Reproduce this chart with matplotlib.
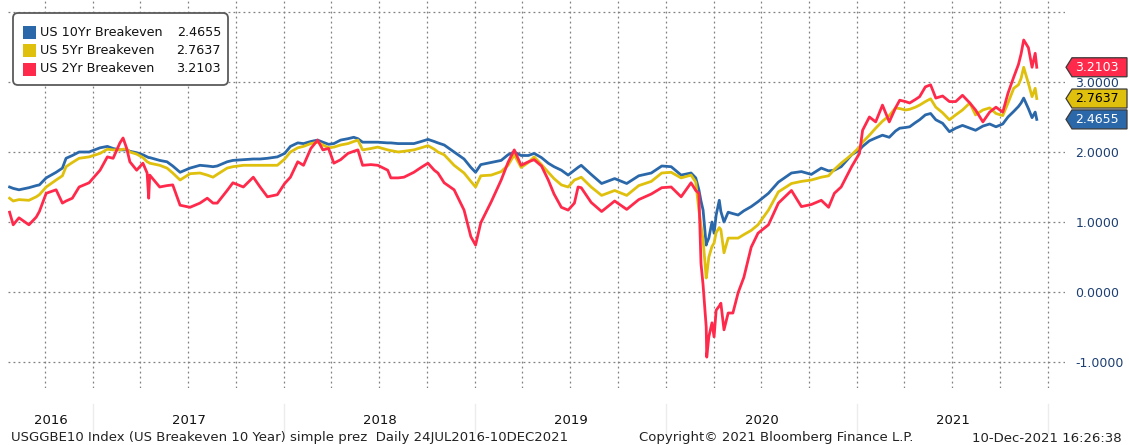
import matplotlib
matplotlib.use("Agg")
import matplotlib.pyplot as plt
import matplotlib.dates as mdates
from matplotlib.patches import FancyBboxPatch, Rectangle, Polygon
from matplotlib.transforms import IdentityTransform, blended_transform_factory
import pandas as pd

ANCHO, ALTO = 1129, 445

# fechas de los puntos (una fila por anio)
fechas = [
    "2016-07-25", "2016-08-01", "2016-08-12", "2016-08-31", "2016-09-14", "2016-09-20", "2016-10-03",
    "2016-10-22", "2016-11-03", "2016-11-10", "2016-11-22", "2016-12-05", "2016-12-24",
    "2017-01-14", "2017-01-28", "2017-02-08", "2017-02-21", "2017-02-27", "2017-03-06", "2017-03-12",
    "2017-03-25", "2017-04-06", "2017-04-14", "2017-04-17", "2017-04-19", "2017-05-08", "2017-05-22",
    "2017-06-02", "2017-06-16", "2017-07-05", "2017-07-24", "2017-08-07", "2017-08-18", "2017-08-26",
    "2017-09-14", "2017-09-25", "2017-10-15", "2017-11-03", "2017-11-16", "2017-11-30", "2017-12-19",
    "2018-01-02", "2018-01-13", "2018-01-27", "2018-02-07", "2018-02-21", "2018-03-06", "2018-03-16",
    "2018-03-27", "2018-04-06", "2018-04-19", "2018-05-03", "2018-05-14", "2018-05-22", "2018-05-31",
    "2018-06-16", "2018-06-29", "2018-07-18", "2018-07-24", "2018-08-07", "2018-08-18", "2018-09-06",
    "2018-09-20", "2018-10-03", "2018-10-15", "2018-10-22", "2018-11-03", "2018-11-22", "2018-12-11",
    "2018-12-24",
    "2019-01-02", "2019-01-12", "2019-02-01", "2019-02-20", "2019-03-05", "2019-03-17", "2019-03-30",
    "2019-04-13", "2019-04-24", "2019-05-08", "2019-05-21", "2019-06-01", "2019-06-15", "2019-06-28",
    "2019-07-10", "2019-07-17", "2019-07-23", "2019-08-11", "2019-08-31", "2019-09-25", "2019-10-18",
    "2019-11-10", "2019-12-04", "2019-12-24",
    "2020-01-11", "2020-01-30", "2020-02-18", "2020-02-27", "2020-03-04", "2020-03-08", "2020-03-12",
    "2020-03-18", "2020-03-19", "2020-03-23", "2020-03-29", "2020-04-02", "2020-04-06", "2020-04-12",
    "2020-04-15", "2020-04-21", "2020-04-29", "2020-05-08", "2020-05-18", "2020-05-29", "2020-06-12",
    "2020-06-25", "2020-07-15", "2020-08-03", "2020-08-28", "2020-09-16", "2020-10-05", "2020-10-24",
    "2020-11-07", "2020-11-18", "2020-12-01", "2020-12-21",
    "2021-01-05", "2021-01-11", "2021-01-24", "2021-02-05", "2021-02-18", "2021-03-03", "2021-03-15",
    "2021-03-23", "2021-04-03", "2021-04-11", "2021-04-22", "2021-04-30", "2021-05-11", "2021-05-21",
    "2021-05-31", "2021-06-13", "2021-06-26", "2021-07-08", "2021-07-21", "2021-08-04", "2021-08-15",
    "2021-08-29", "2021-09-11", "2021-09-23", "2021-10-06", "2021-10-16", "2021-10-27", "2021-11-05",
    "2021-11-10", "2021-11-15", "2021-11-24", "2021-12-01", "2021-12-07", "2021-12-10",
]

be10 = [
    1.50, 1.48, 1.46, 1.49, 1.52, 1.53, 1.63, 1.71, 1.77, 1.91, 1.95, 2.00, 2.00,
    2.06, 2.08, 2.05, 2.03, 2.03, 2.03, 2.01, 1.99, 1.96, 1.93, 1.92, 1.92, 1.88, 1.86, 1.80, 1.71,
    1.77, 1.81, 1.80, 1.79, 1.80, 1.86, 1.88, 1.89, 1.90, 1.90, 1.91, 1.93,
    1.98, 2.08, 2.13, 2.12, 2.15, 2.17, 2.14, 2.11, 2.12, 2.17, 2.19, 2.21, 2.19, 2.14, 2.14, 2.14,
    2.13, 2.13, 2.12, 2.12, 2.12, 2.15, 2.18, 2.15, 2.13, 2.10, 2.00, 1.90, 1.78,
    1.71, 1.82, 1.85, 1.88, 1.96, 2.00, 1.95, 1.95, 1.98, 1.92, 1.84, 1.79, 1.74, 1.67, 1.74, 1.78,
    1.81, 1.68, 1.55, 1.62, 1.55, 1.66, 1.70, 1.80,
    1.79, 1.67, 1.70, 1.63, 1.46, 1.30, 1.17, 0.67, 0.70, 0.77, 1.00, 0.84, 1.10, 1.31, 1.15, 1.00,
    1.14, 1.12, 1.10, 1.16, 1.22, 1.29, 1.41, 1.57, 1.70, 1.72, 1.68, 1.77, 1.73, 1.74, 1.79, 1.96,
    2.03, 2.08, 2.16, 2.20, 2.24, 2.21, 2.30, 2.34, 2.35, 2.36, 2.42, 2.46, 2.53, 2.55, 2.46, 2.41,
    2.29, 2.34, 2.38, 2.34, 2.31, 2.37, 2.40, 2.36, 2.40, 2.50, 2.58, 2.65, 2.70, 2.77, 2.62, 2.49,
    2.57, 2.4655,
]

be5 = [
    1.34, 1.30, 1.32, 1.31, 1.36, 1.39, 1.50, 1.60, 1.66, 1.79, 1.85, 1.91, 1.93,
    1.98, 2.04, 2.03, 2.03, 2.04, 2.04, 2.00, 1.97, 1.92, 1.86, 1.85, 1.84, 1.81, 1.77, 1.70, 1.60,
    1.69, 1.70, 1.67, 1.64, 1.68, 1.77, 1.79, 1.81, 1.81, 1.81, 1.81, 1.81,
    1.90, 2.00, 2.06, 2.08, 2.12, 2.14, 2.10, 2.06, 2.07, 2.10, 2.12, 2.15, 2.17, 2.03, 2.05, 2.07,
    2.03, 2.02, 2.00, 2.01, 2.03, 2.06, 2.09, 2.04, 2.00, 1.96, 1.81, 1.70, 1.58,
    1.50, 1.66, 1.67, 1.72, 1.81, 1.96, 1.78, 1.85, 1.93, 1.82, 1.71, 1.62, 1.53, 1.50, 1.60, 1.62,
    1.64, 1.50, 1.38, 1.45, 1.38, 1.52, 1.58, 1.70,
    1.71, 1.63, 1.67, 1.57, 1.17, 0.95, 0.74, 0.20, 0.25, 0.50, 0.65, 0.70, 0.85, 0.92, 0.89, 0.56,
    0.77, 0.77, 0.77, 0.82, 0.88, 0.96, 1.17, 1.43, 1.55, 1.58, 1.60, 1.64, 1.66, 1.75, 1.84, 1.96,
    2.07, 2.14, 2.24, 2.34, 2.44, 2.52, 2.63, 2.62, 2.60, 2.61, 2.64, 2.67, 2.72, 2.76, 2.64, 2.56,
    2.46, 2.53, 2.60, 2.70, 2.53, 2.60, 2.63, 2.55, 2.52, 2.70, 2.91, 2.96, 3.05, 3.21, 2.98, 2.79,
    2.91, 2.7637,
]

be2 = [
    1.14, 0.96, 1.06, 0.96, 1.07, 1.15, 1.41, 1.46, 1.27, 1.30, 1.34, 1.50, 1.56,
    1.74, 1.93, 1.91, 2.13, 2.20, 2.05, 1.86, 1.74, 1.84, 1.70, 1.34, 1.67, 1.50, 1.52, 1.53, 1.24,
    1.21, 1.27, 1.34, 1.27, 1.27, 1.45, 1.56, 1.50, 1.64, 1.50, 1.36, 1.39,
    1.55, 1.64, 1.86, 1.81, 2.05, 2.17, 2.03, 2.05, 1.84, 1.89, 1.98, 2.01, 2.03, 1.81, 1.82, 1.81,
    1.74, 1.63, 1.63, 1.64, 1.71, 1.78, 1.84, 1.74, 1.70, 1.56, 1.46, 1.17, 0.79,
    0.67, 0.99, 1.29, 1.60, 1.85, 2.03, 1.81, 1.86, 1.89, 1.80, 1.60, 1.40, 1.21, 1.17, 1.27, 1.50,
    1.49, 1.28, 1.15, 1.30, 1.18, 1.32, 1.40, 1.49,
    1.50, 1.36, 1.56, 1.45, 1.41, 0.41, 0.10, -0.50, -0.93, -0.64, -0.44, -0.64, -0.26, -0.20, -0.16, -0.54,
    -0.30, -0.30, -0.01, 0.21, 0.64, 0.84, 0.96, 1.27, 1.45, 1.22, 1.25, 1.31, 1.21, 1.41, 1.50, 1.79,
    1.98, 2.31, 2.50, 2.43, 2.67, 2.43, 2.63, 2.74, 2.72, 2.70, 2.75, 2.79, 2.93, 2.96, 2.77, 2.80,
    2.72, 2.72, 2.81, 2.70, 2.60, 2.43, 2.57, 2.64, 2.57, 2.84, 3.07, 3.25, 3.40, 3.60, 3.49, 3.21,
    3.41, 3.2103,
]

nombres = ["US 10Yr Breakeven", "US 5Yr Breakeven", "US 2Yr Breakeven"]
colores = ["#2b68aa", "#dfc00c", "#ff2a4b"]
color_texto_etiqueta = ["white", "black", "white"]
anios = [2016, 2017, 2018, 2019, 2020, 2021]
niveles = [-1, 0, 1, 2, 3, 4]

pie_izq = "USGGBE10 Index (US Breakeven 10 Year) simple prez  Daily 24JUL2016-10DEC2021"
pie_centro = "Copyright\u00a9 2021 Bloomberg Finance L.P."
pie_der = "10-Dec-2021 16:26:38"

plt.rcParams["font.family"] = ["DejaVu Sans"]

fig = plt.figure(figsize=(ANCHO / 100, ALTO / 100), dpi=100)
ax = fig.add_axes([8 / ANCHO, 57 / ALTO, 1057 / ANCHO, 388 / ALTO])

x = pd.to_datetime(fechas)
series = [be10, be5, be2]
for serie, color in zip(series, colores):
    ax.plot(x, serie, color=color, lw=2.0, solid_joinstyle="round")

ax.set_xlim(pd.Timestamp("2016-07-22"), pd.Timestamp("2022-02-02"))
ax.set_ylim(-1.371, 4.171)

# grilla punteada: trimestres en x, enteros en y
ax.xaxis.set_major_locator(mdates.MonthLocator(bymonth=[1, 4, 7, 10]))
ax.set_yticks(niveles)
ax.grid(True, color="#808080", linestyle=(0, (1.5, 2.5)), linewidth=0.9)
ax.tick_params(axis="x", length=0, labelbottom=False)
ax.yaxis.tick_right()
ax.set_yticklabels([f"{v:.4f}" if v < 4 else "" for v in niveles])
ax.tick_params(axis="y", length=0, pad=7.5, labelsize=9, labelcolor="#1d3f73")
for s in ax.spines.values():
    s.set_visible(False)

# anios centrados en el tramo visible de cada anio
trans = blended_transform_factory(ax.transData, ax.transAxes)
izq, der = ax.get_xlim()
for a in anios:
    ini = max(mdates.date2num(pd.Timestamp(f"{a}-01-01")), izq)
    fin = min(mdates.date2num(pd.Timestamp(f"{a + 1}-01-01")), der)
    ax.text((ini + fin) / 2, -0.083, str(a), transform=trans, ha="center", va="center",
            fontsize=9.5, color="#111111")
    if a > anios[0]:
        ax.plot([ini, ini], [-0.04, -0.115], transform=trans, color="#ececec", lw=1, clip_on=False)
fin_ultimo = mdates.date2num(pd.Timestamp(f"{anios[-1] + 1}-01-01"))
ax.plot([fin_ultimo, fin_ultimo], [-0.04, -0.115], transform=trans, color="#ececec", lw=1, clip_on=False)

pix = IdentityTransform()

# etiquetas de ultimo valor a la derecha
for serie, color, ctxt in zip(series, colores, color_texto_etiqueta):
    v = serie[-1]
    yp = ax.transData.transform((0, v))[1]
    forma = Polygon([(1066, yp), (1072, yp + 9.5), (1127, yp + 9.5), (1127, yp - 9.5), (1072, yp - 9.5)],
                    closed=True, transform=pix, facecolor=color, edgecolor="#3a3a3a", lw=0.9, zorder=5)
    fig.add_artist(forma)
    fig.text(1097, yp, f"{v:.4f}", transform=pix, ha="center", va="center", fontsize=9,
             color=ctxt, zorder=6)

# leyenda armada a mano
caja = FancyBboxPatch((13, ALTO - 85), 215, 72, boxstyle="round,pad=0,rounding_size=5",
                      transform=pix, facecolor="white", edgecolor="#5a5a5a", lw=1.3, zorder=5)
fig.add_artist(caja)
for i, (nombre, color, serie) in enumerate(zip(nombres, colores, series)):
    cy = ALTO - (32 + i * 18.5)
    fig.add_artist(Rectangle((23, cy - 6.5), 13, 13, transform=pix, facecolor=color,
                             edgecolor="none", zorder=6))
    fig.text(40, cy, nombre, transform=pix, ha="left", va="center", fontsize=9.2, color="#111111", zorder=6)
    fig.text(221, cy, f"{serie[-1]:.4f}", transform=pix, ha="right", va="center", fontsize=9.2,
             color="#111111", zorder=6)

# pie de pagina
fig.text(11, ALTO - 438, pie_izq, transform=pix, ha="left", va="center", fontsize=9.5, color="#222222")
fig.text(639, ALTO - 438, pie_centro, transform=pix, ha="left", va="center", fontsize=9.5, color="#222222")
fig.text(1122, ALTO - 438, pie_der, transform=pix, ha="right", va="center", fontsize=9.5, color="#222222")

fig.savefig("out.png", dpi=100)
